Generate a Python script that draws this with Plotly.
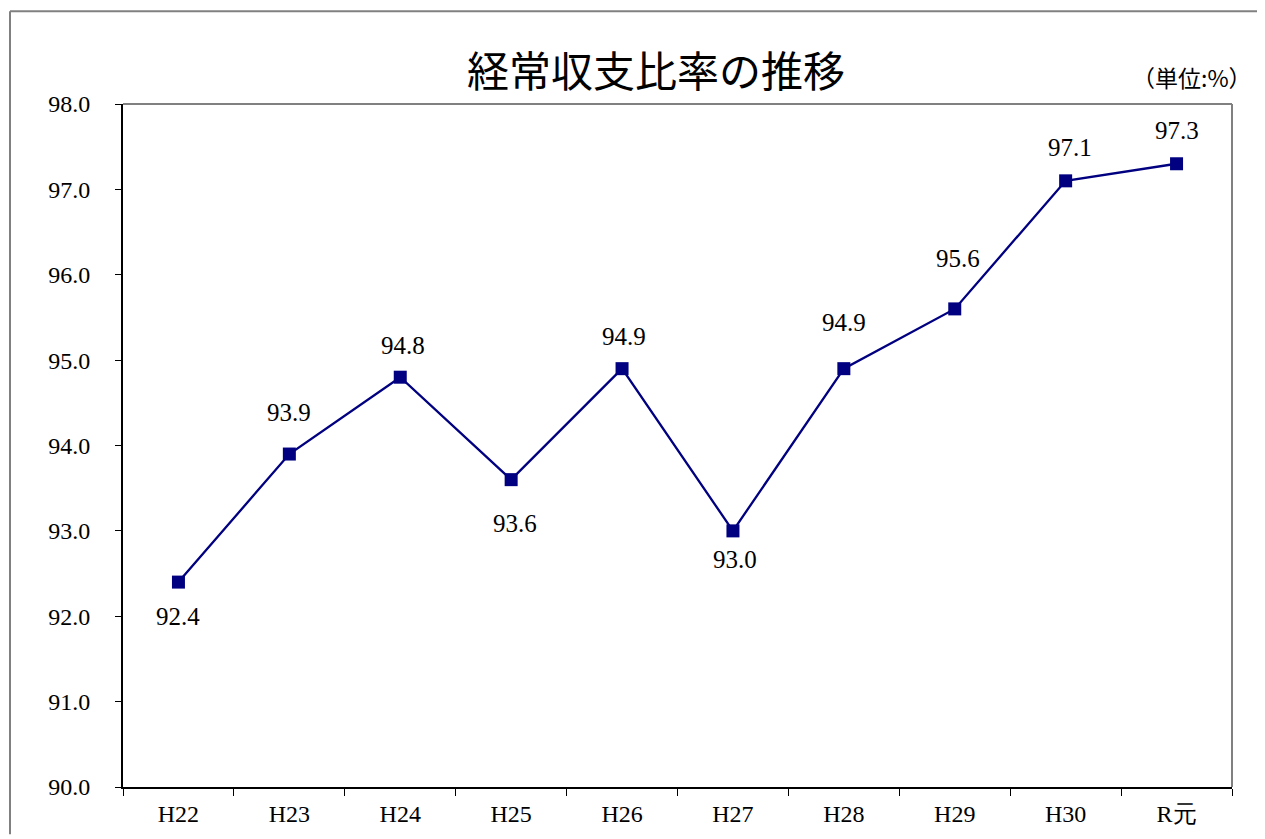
import plotly.graph_objects as go

categories = ["H22", "H23", "H24", "H25", "H26", "H27", "H28", "H29", "H30", "R元"]
values = [92.4, 93.9, 94.8, 93.6, 94.9, 93.0, 94.9, 95.6, 97.1, 97.3]
y_ticks = [90, 91, 92, 93, 94, 95, 96, 97, 98]

title_text = "経常収支比率の推移"
unit_text = "（単位:%）"

# label placement (pixels, positive = up)
label_yshift = [-34, 42, 32, -44, 32, -29, 46, 50, 33, 33]
label_xshift = [0, 0, 3, 4, 2, 2, 0, 3, 4, 0]

OFF = 8  # page body margin
W, H = 1265 - OFF, 839 - OFF
L, R, T, B = 123 - OFF, 33, 104 - OFF, 50 - OFF
pw, ph = W - L - R, H - T - B

def px(x):
    return (x - OFF - L) / pw

def py(y):
    return (H - B - (y - OFF)) / ph

navy = "#000080"
serif = "Liberation Serif"
cjk = "Noto Sans CJK JP"

fig = go.Figure()
fig.add_trace(go.Scatter(
    x=categories, y=values, mode="lines+markers",
    line=dict(color=navy, width=2.3),
    marker=dict(symbol="square", size=13, color=navy),
    hoverinfo="skip", cliponaxis=False,
))

annotations = []
for c, v, dy, dx in zip(categories, values, label_yshift, label_xshift):
    annotations.append(dict(
        x=c, y=v, xref="x", yref="y", text=f"{v:.1f}", showarrow=False,
        yshift=dy, xshift=dx, font=dict(family=serif, size=25, color="#000"),
    ))
annotations.append(dict(
    x=px(656), y=py(68), xref="paper", yref="paper", text=title_text,
    showarrow=False, xanchor="center", yanchor="middle",
    font=dict(family=cjk, size=42, color="#000"),
))
annotations.append(dict(
    x=px(1254), y=py(77), xref="paper", yref="paper", text=unit_text,
    showarrow=False, xanchor="right", yanchor="middle",
    font=dict(family=cjk, size=23, color="#000"),
))

gray = "#808080"
shapes = [
    dict(type="line", xref="paper", yref="paper", x0=0, x1=1, y0=1, y1=1,
         line=dict(color=gray, width=2)),
    dict(type="line", xref="paper", yref="paper", x0=1, x1=1, y0=0, y1=1,
         line=dict(color=gray, width=2)),
    dict(type="line", xref="paper", yref="paper", x0=px(10), x1=px(10),
         y0=py(10), y1=py(845), line=dict(color=gray, width=2)),
    dict(type="line", xref="paper", yref="paper", x0=px(10), x1=px(1270),
         y0=py(10), y1=py(10), line=dict(color=gray, width=2)),
]

fig.update_layout(
    width=W, height=H,
    margin=dict(l=L, r=R, t=T, b=B, pad=0),
    paper_bgcolor="white", plot_bgcolor="white",
    showlegend=False,
    annotations=annotations, shapes=shapes,
    xaxis=dict(
        type="category", range=[-0.5, len(categories) - 0.5],
        showgrid=False, zeroline=False,
        showline=True, linecolor="#000", linewidth=2,
        ticks="outside", tickson="boundaries", ticklen=7, tickcolor="#000", tickwidth=1,
        tickfont=dict(family=serif, size=24, color="#000"),
        ticklabelstandoff=4,
    ),
    yaxis=dict(
        range=[90, 98], tickmode="array", tickvals=y_ticks,
        ticktext=[f"{t:.1f}" for t in y_ticks],
        showgrid=False, zeroline=False,
        showline=True, linecolor="#000", linewidth=2,
        ticks="outside", ticklen=6, tickcolor="#000", tickwidth=1,
        tickfont=dict(family=serif, size=24, color="#000"),
        ticklabelstandoff=20,
    ),
)

fig.write_html("out.html")
